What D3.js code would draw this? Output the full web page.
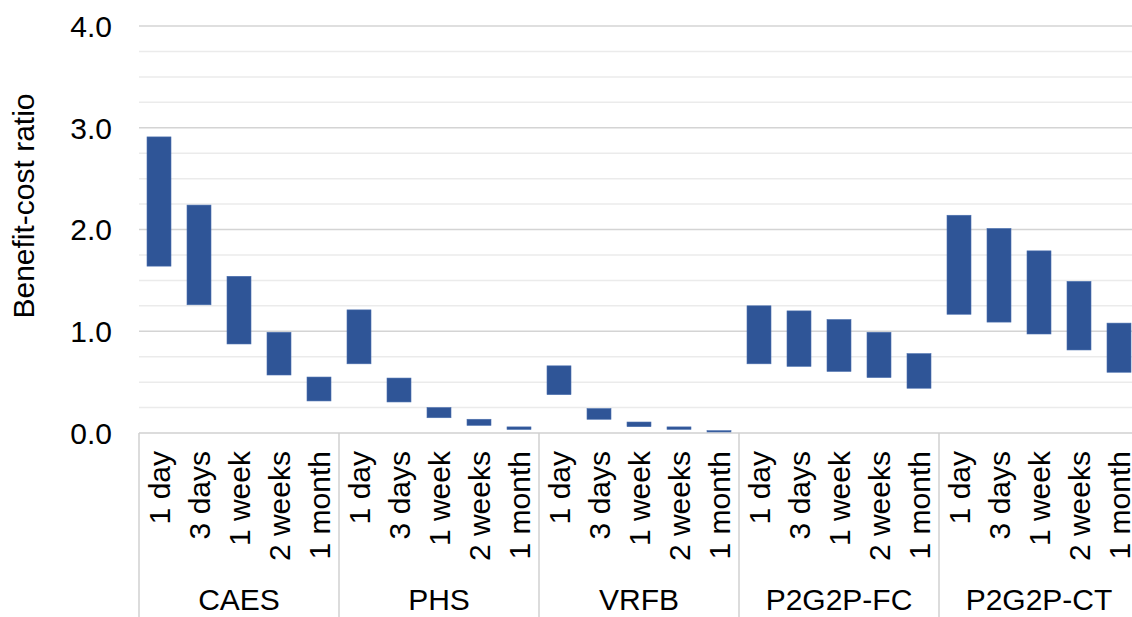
<!DOCTYPE html>
<html>
<head>
<meta charset="utf-8">
<script src="https://cdn.jsdelivr.net/npm/d3@7"></script>
<style>
  body { margin: 0; background: #fff; }
  text { font-family: "Liberation Sans", Arial, sans-serif; fill: #000; }
</style>
</head>
<body>
<div id="chart"></div>
<script>
// storage technologies and discharge durations
const technologies = ["CAES", "PHS", "VRFB", "P2G2P-FC", "P2G2P-CT"];
const durations = ["1 day", "3 days", "1 week", "2 weeks", "1 month"];

// benefit-cost ratio ranges (low / high), one row per technology
const lowValues = [
  [1.64, 1.26, 0.875, 0.57, 0.315],
  [0.68, 0.305, 0.15, 0.075, 0.035],
  [0.377, 0.135, 0.062, 0.036, 0.01],
  [0.68, 0.655, 0.605, 0.545, 0.44],
  [1.167, 1.09, 0.973, 0.816, 0.597]
];
const highValues = [
  [2.91, 2.24, 1.54, 0.99, 0.55],
  [1.21, 0.54, 0.25, 0.135, 0.06],
  [0.66, 0.24, 0.108, 0.06, 0.023],
  [1.25, 1.20, 1.115, 0.99, 0.78],
  [2.14, 2.01, 1.79, 1.49, 1.08]
];

const yTicks = [0, 1, 2, 3, 4];
const yMinorTicks = d3.range(0, 4.001, 0.25);

const width = 1132, height = 617;
const margin = {top: 26, left: 139, bottom: 184};
const plotBottom = height - margin.bottom; // y of 0.0
const groupWidth = 200;
const fontSize = "30px";

let svg = d3.select("#chart")
            .append("svg")
            .attr("width", width)
            .attr("height", height);

let xGroup = d3.scaleBand()
                 .domain(technologies)
                 .range([margin.left, margin.left + groupWidth * technologies.length])
                 .padding(0);

let xInner = d3.scaleBand()
                 .domain(durations)
                 .range([0, xGroup.bandwidth()])
                 .paddingInner(0.4)
                 .paddingOuter(0.2);

let yScale = d3.scaleLinear()
                 .domain([0, 4])
                 .range([plotBottom, margin.top]);

// gridlines
svg.append("g")
    .selectAll("line")
    .data(yMinorTicks.filter(d => d > 0))
    .join("line")
    .attr("x1", margin.left)
    .attr("x2", width)
    .attr("y1", d => yScale(d))
    .attr("y2", d => yScale(d))
    .attr("stroke", d => (Math.abs(d - Math.round(d)) < 1e-6) ? "#d4d4d4" : "#ebebeb")
    .attr("stroke-width", 1.5);

// x axis baseline
svg.append("line")
    .attr("x1", margin.left)
    .attr("x2", width)
    .attr("y1", yScale(0))
    .attr("y2", yScale(0))
    .attr("stroke", "#d0d0d0")
    .attr("stroke-width", 1.5);

// group separators
svg.append("g")
    .selectAll("line")
    .data(technologies.concat(["end"]))
    .join("line")
    .attr("x1", (d, i) => margin.left + i * xGroup.bandwidth())
    .attr("x2", (d, i) => margin.left + i * xGroup.bandwidth())
    .attr("y1", yScale(0))
    .attr("y2", height)
    .attr("stroke", "#d0d0d0")
    .attr("stroke-width", 1.5);

// y tick labels
svg.append("g")
    .selectAll("text")
    .data(yTicks)
    .join("text")
    .attr("x", 112)
    .attr("y", d => yScale(d))
    .attr("dy", "0.36em")
    .attr("text-anchor", "end")
    .style("font-size", fontSize)
    .text(d => d.toFixed(1));

// y axis title
svg.append("text")
    .attr("transform", "translate(34," + 206 + ") rotate(-90)")
    .attr("text-anchor", "middle")
    .style("font-size", fontSize)
    .text("Benefit-cost ratio");

// floating range bars
technologies.forEach((tech, ti) => {
  let g = svg.append("g")
               .attr("transform", "translate(" + xGroup(tech) + ",0)");

  g.selectAll("rect")
      .data(durations.map((d, di) => ({dur: d, lo: lowValues[ti][di], hi: highValues[ti][di]})))
      .join("rect")
      .attr("x", d => xInner(d.dur))
      .attr("width", xInner.bandwidth())
      .attr("y", d => yScale(d.hi))
      .attr("height", d => Math.max(1, yScale(d.lo) - yScale(d.hi)))
      .attr("fill", "#2f5597")
      .attr("stroke", "#4a6fae")
      .attr("stroke-width", 0.6);

  // duration labels, rotated
  g.selectAll("text.dur")
      .data(durations)
      .join("text")
      .attr("class", "dur")
      .attr("transform", d => "translate(" + (xInner(d) + xInner.bandwidth() / 2) + "," + 451 + ") rotate(-90)")
      .attr("dy", "0.36em")
      .attr("text-anchor", "end")
      .style("font-size", fontSize)
      .text(d => d);

  // technology label
  g.append("text")
      .attr("x", xGroup.bandwidth() / 2)
      .attr("y", 599)
      .attr("dy", "0.36em")
      .attr("text-anchor", "middle")
      .style("font-size", fontSize)
      .text(tech);
});
</script>
</body>
</html>
